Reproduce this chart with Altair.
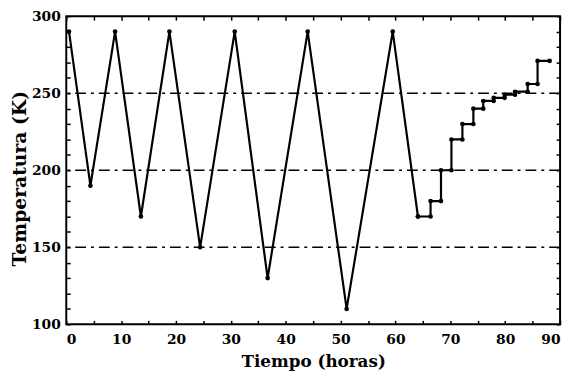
import altair as alt
import pandas as pd

# ---- data ----
zig_time = [0.5, 4.4, 8.9, 13.6, 18.8, 24.4, 30.7, 36.7, 44.0, 51.1, 59.5, 64.1]
zig_temp = [290, 190, 290, 170, 290, 150, 290, 130, 290, 110, 290, 170]

step_time = [64.1, 66.4, 68.3, 70.2, 72.2, 74.2, 76.0, 77.9, 79.9, 81.8, 84.1, 85.9, 88.1]
step_temp = [170, 180, 200, 220, 230, 240, 245, 247, 249, 251, 256, 271, 271]

ref_levels = [150, 200, 250]

x_labels = [0, 10, 20, 30, 40, 50, 60, 70, 80, 90]
y_labels = [100, 150, 200, 250, 300]
x_ticks = list(range(0, 91, 5))
y_ticks = list(range(100, 301, 10))

FONT = "DejaVu Serif"

zig_df = pd.DataFrame({"t": zig_time, "T": zig_temp})
step_df = pd.DataFrame({"t": step_time, "T": step_temp})
# dots at both ends of each horizontal step segment
dot_rows = [(a, b) for a, b in zip(zig_time, zig_temp)]
for i in range(len(step_time) - 1):
    dot_rows.append((step_time[i], step_temp[i]))
    dot_rows.append((step_time[i + 1], step_temp[i]))
dot_df = pd.DataFrame(dot_rows, columns=["t", "T"])
ref_df = pd.DataFrame({"v": ref_levels})
xt_df = pd.DataFrame({"v": x_ticks})
yt_df = pd.DataFrame({"v": y_ticks})

W, H = 500, 312
xs = alt.Scale(domain=[0, 90], nice=False, zero=False)
ys = alt.Scale(domain=[100, 300], nice=False, zero=False)

main_x = alt.Axis(orient="bottom", values=x_labels, ticks=False, tickSize=0, domain=False,
                  grid=False, labelFont=FONT, labelFontWeight="bold", labelFontSize=14,
                  labelColor="black", labelPadding=8, title="Tiempo (horas)",
                  titleFont=FONT, titleFontWeight="bold", titleFontSize=17, titleColor="black",
                  titleY=43, titleBaseline="alphabetic")
main_y = alt.Axis(orient="left", values=y_labels, ticks=False, tickSize=0, domain=False,
                  grid=False, labelFont=FONT, labelFontWeight="bold", labelFontSize=14,
                  labelColor="black", labelPadding=6, title="Temperatura (K)",
                  titleFont=FONT, titleFontWeight="bold", titleFontSize=19, titleColor="black",
                  titleX=-41, titleY=H / 2 + 8, titleBaseline="alphabetic")

rules = alt.Chart(ref_df).mark_rule(color="black", strokeWidth=1.6,
                                    strokeDash=[11, 5, 3, 5]).encode(
    y=alt.Y("v:Q", scale=ys, axis=None))

zig = alt.Chart(zig_df).mark_line(color="black", strokeWidth=2.2).encode(
    x=alt.X("t:Q", scale=xs, axis=main_x),
    y=alt.Y("T:Q", scale=ys, axis=main_y))

steps = alt.Chart(step_df).mark_line(color="black", strokeWidth=2.2,
                                     interpolate="step-after").encode(
    x=alt.X("t:Q", scale=xs, axis=None),
    y=alt.Y("T:Q", scale=ys, axis=None))

dots = alt.Chart(dot_df).mark_circle(color="black", size=22, opacity=1).encode(
    x=alt.X("t:Q", scale=xs, axis=None),
    y=alt.Y("T:Q", scale=ys, axis=None))


def tick_axis(orient, offset, values):
    return alt.Axis(orient=orient, offset=offset, values=values, ticks=True, tickSize=4,
                    tickWidth=1.5, tickColor="black", labels=False, domain=False,
                    grid=False, title=None)


xt_bottom = alt.Chart(xt_df).mark_tick(opacity=0).encode(
    x=alt.X("v:Q", scale=xs, axis=tick_axis("top", -H, x_ticks)))
xt_top = alt.Chart(xt_df).mark_tick(opacity=0).encode(
    x=alt.X("v:Q", scale=xs, axis=tick_axis("bottom", -H, x_ticks)))
yt_left = alt.Chart(yt_df).mark_tick(opacity=0).encode(
    y=alt.Y("v:Q", scale=ys, axis=tick_axis("right", -W, y_ticks)))
yt_right = alt.Chart(yt_df).mark_tick(opacity=0).encode(
    y=alt.Y("v:Q", scale=ys, axis=tick_axis("left", -W, y_ticks)))

chart = alt.layer(rules, zig, steps, dots, xt_bottom, xt_top, yt_left, yt_right).resolve_axis(
    x="independent", y="independent"
).properties(
    width=W, height=H,
    autosize=alt.AutoSizeParams(type="none"),
    padding={"left": 59, "top": 6, "right": 5, "bottom": 50},
    background="white",
).configure_view(stroke="black", strokeWidth=2)

chart.save("out.html", embed_options={"renderer": "svg", "actions": False})
